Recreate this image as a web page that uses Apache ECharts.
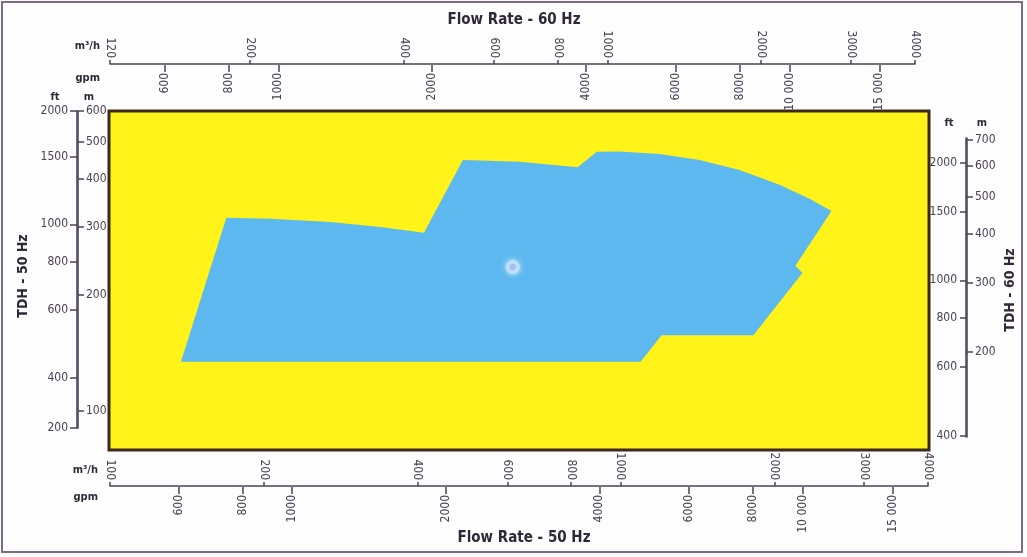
<!DOCTYPE html>
<html>
<head>
<meta charset="utf-8">
<script src="https://cdn.jsdelivr.net/npm/echarts@6/dist/echarts.min.js"></script>
<style>
  html, body { margin: 0; padding: 0; background: #ffffff; }
  #chart { width: 1027px; height: 557px; }
</style>
</head>
<body>
<div id="chart"></div>
<script>
// Pump operating envelope at 50 Hz: flow (m³/h) and head (m) around the outline
const envelopeFlow = [137.7, 169, 206, 270, 338, 412, 491, 634, 824, 898, 995, 1192, 1428, 1710, 2048, 2344, 2588, 2200, 2270, 1820, 1203, 1094];
const envelopeHead = [134, 317, 315, 309, 300, 290, 448, 443, 429, 470, 471, 464, 448, 422, 386, 355, 330, 238, 228, 157, 157, 134];
// Best efficiency point (m³/h, m)
const bestPoint = [[615, 236]];

// Scale tick values
const flow50M3h = [100, 200, 400, 600, 800, 1000, 2000, 3000, 4000];
const flow60M3h = [120, 200, 400, 600, 800, 1000, 2000, 3000, 4000];
const flowGpm = [600, 800, 1000, 2000, 4000, 6000, 8000, 10000, 15000];
const head50Ft = [200, 400, 600, 800, 1000, 1500, 2000];
const head50M = [100, 200, 300, 400, 500, 600];
const head60Ft = [400, 600, 800, 1000, 1500, 2000];
const head60M = [200, 300, 400, 500, 600, 700];

// Ranges covered by each scale
const plotFlowRange = [99.55, 4018];
const plotHeadRange = [79.1, 600];
const flow50Range = [100, 4000];
const flow60Range = [106.4, 4000];
const head50Range = [90.3, 600];
const head60Range = [120.8, 706];

const M3H_TO_GPM = 4.4029;
const M_TO_FT = 1 / 0.3048;

const FONT = "'Liberation Sans Narrow', 'DejaVu Sans Condensed', 'Roboto Condensed', sans-serif";
const INK = '#4b4154';
const DARK = '#2f2836';

const lg = Math.log10;
const mul = (r, k) => [r[0] * k, r[1] * k];

function fmt(v) {
  return v >= 10000 ? String(v).replace(/(\d+)(\d{3})$/, '$1 $2') : String(v);
}

// A scale drawn on a value axis in log10 space; ticks beyond the ends sit on the ends
function logScale(ticks, range, opts) {
  const lo = lg(range[0]), hi = lg(range[1]);
  const pos = ticks.map((v, i) => (opts.pinFirst && i === 0) ? lo : Math.min(Math.max(lg(v), lo), hi));
  const text = ticks.map(fmt);
  const labelOf = (val) => {
    let best = 0;
    pos.forEach((p, i) => { if (Math.abs(p - val) < Math.abs(pos[best] - val)) best = i; });
    return text[best];
  };
  return Object.assign({
    type: 'value',
    min: lo,
    max: hi,
    splitLine: { show: false },
    axisLine: { show: opts.line !== false, onZero: false, lineStyle: { color: INK, width: 1.5 } },
    axisTick: { show: true, customValues: pos, length: opts.tickLen || 5, lineStyle: { color: INK, width: 1.5 } },
    axisLabel: {
      show: true,
      customValues: pos,
      formatter: labelOf,
      rotate: opts.rotate || 0,
      margin: opts.margin || 6,
      color: INK,
      fontFamily: FONT,
      fontSize: 12,
      showMinLabel: true,
      showMaxLabel: true
    }
  }, opts.extra || {});
}

const hiddenY = (g) => ({ gridIndex: g, type: 'value', min: 0, max: 1, show: false });
const hiddenX = (g) => ({ gridIndex: g, type: 'value', min: 0, max: 1, show: false });

const chart = echarts.init(document.getElementById('chart'), null, { renderer: 'canvas' });

const unitText = (x, y, text, align) => ({
  type: 'text', x: x, y: y,
  style: { text: text, font: 'bold 11px ' + FONT, fill: DARK, align: align || 'center', verticalAlign: 'middle' }
});

chart.setOption({
  backgroundColor: '#fefdfe',
  animation: false,
  grid: [
    { left: 109, top: 111, width: 820, height: 339, show: true, backgroundColor: '#fff31a', borderColor: '#3b2a1a', borderWidth: 3, z: 0 },
    { left: 110, top: 64, width: 805, height: 1 },
    { left: 110, top: 486, width: 818, height: 1 },
    { left: 77, top: 111, width: 1, height: 317 },
    { left: 966, top: 138, width: 1, height: 299 }
  ],
  xAxis: [
    { gridIndex: 0, type: 'log', min: plotFlowRange[0], max: plotFlowRange[1], show: false },
    logScale(flow60M3h, flow60Range, { pinFirst: true, rotate: 90, margin: 6, tickLen: 4, extra: { gridIndex: 1, position: 'top' } }),
    logScale(flowGpm, mul(flow60Range, M3H_TO_GPM), { line: false, rotate: 90, margin: 8, tickLen: 7, extra: { gridIndex: 1, position: 'bottom' } }),
    logScale(flow50M3h, flow50Range, { rotate: 90, margin: 6, tickLen: 4, extra: { gridIndex: 2, position: 'top' } }),
    logScale(flowGpm, mul(flow50Range, M3H_TO_GPM), { line: false, rotate: 90, margin: 8, tickLen: 7, extra: { gridIndex: 2, position: 'bottom' } }),
    hiddenX(3),
    hiddenX(4)
  ],
  yAxis: [
    { gridIndex: 0, type: 'log', min: plotHeadRange[0], max: plotHeadRange[1], show: false },
    hiddenY(1),
    hiddenY(2),
    logScale(head50Ft, mul(head50Range, M_TO_FT), { tickLen: 7, margin: 9, extra: { gridIndex: 3, position: 'left' } }),
    logScale(head50M, head50Range, { tickLen: 6, margin: 8, extra: { gridIndex: 3, position: 'right' } }),
    logScale(head60Ft, mul(head60Range, M_TO_FT), { tickLen: 6, margin: 9, extra: { gridIndex: 4, position: 'left' } }),
    logScale(head60M, head60Range, { tickLen: 6, margin: 8, extra: { gridIndex: 4, position: 'right' } })
  ],
  series: [
    {
      type: 'custom',
      xAxisIndex: 0,
      yAxisIndex: 0,
      z: 2,
      data: [[envelopeFlow[0], envelopeHead[0]]],
      renderItem: function (params, api) {
        const pts = envelopeFlow.map((q, i) => api.coord([q, envelopeHead[i]]));
        return { type: 'polygon', shape: { points: pts }, style: { fill: '#5db8ef', stroke: null } };
      }
    },
    {
      type: 'scatter',
      xAxisIndex: 0,
      yAxisIndex: 0,
      z: 3,
      data: bestPoint,
      symbolSize: 10,
      itemStyle: { color: '#7080d6', borderColor: '#c6e6fb', borderWidth: 4, shadowBlur: 6, shadowColor: 'rgba(225,244,255,0.95)' }
    }
  ],
  graphic: [
    { type: 'rect', shape: { x: 2, y: 2, width: 1020, height: 550 }, style: { fill: 'none', stroke: '#7b6d83', lineWidth: 2 }, silent: true },
    { type: 'text', x: 514, y: 20, style: { text: 'Flow Rate - 60 Hz', font: 'bold 15px ' + FONT, fill: DARK, align: 'center', verticalAlign: 'middle' } },
    { type: 'text', x: 524, y: 538, style: { text: 'Flow Rate - 50 Hz', font: 'bold 15px ' + FONT, fill: DARK, align: 'center', verticalAlign: 'middle' } },
    { type: 'text', x: 23, y: 276, rotation: Math.PI / 2, style: { text: 'TDH - 50 Hz', font: 'bold 14px ' + FONT, fill: DARK, align: 'center', verticalAlign: 'middle' } },
    { type: 'text', x: 1010, y: 290, rotation: Math.PI / 2, style: { text: 'TDH - 60 Hz', font: 'bold 14px ' + FONT, fill: DARK, align: 'center', verticalAlign: 'middle' } },
    unitText(100, 46, 'm³/h', 'right'),
    unitText(100, 78, 'gpm', 'right'),
    unitText(55, 97, 'ft'),
    unitText(89, 97, 'm'),
    unitText(949, 123, 'ft'),
    unitText(982, 123, 'm'),
    unitText(98, 470, 'm³/h', 'right'),
    unitText(98, 497, 'gpm', 'right')
  ]
});
</script>
</body>
</html>
